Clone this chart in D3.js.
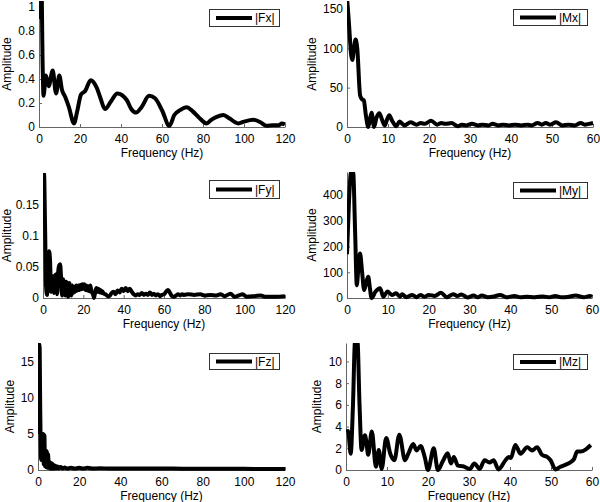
<!DOCTYPE html>
<html>
<head>
<meta charset="utf-8">
<script src="https://cdn.jsdelivr.net/npm/d3@7/dist/d3.min.js"></script>
<style>
  html, body { margin: 0; padding: 0; background: #fff; }
  svg { display: block; font-family: "Liberation Sans", Arial, sans-serif; }
</style>
</head>
<body>
<svg id="chart" width="600" height="502"></svg>
<script>
// ---- Data (frequency Hz, amplitude) ----
const fxData = [[0,0.9],[0.6,1.3],[1.2,1.2],[1.8,0.5],[2.2,0.26],[3.4,0.43],[4.7,0.34],[6.7,0.47],[8.3,0.28],[9.9,0.43],[11.2,0.31],[12.8,0.25],[14.5,0.17],[17.1,0.03],[18.5,0.12],[20.5,0.27],[22.5,0.3],[25.2,0.39],[28.1,0.33],[30,0.24],[32.2,0.15],[35,0.21],[38.2,0.28],[42.8,0.225],[45,0.15],[47.3,0.12],[50,0.165],[53.7,0.26],[56.6,0.24],[60,0.14],[63.6,0.01],[66,0.1],[68.8,0.14],[72,0.165],[75,0.13],[78,0.08],[81.8,0.03],[84,0.06],[86.7,0.085],[90,0.1],[93,0.07],[97.2,0.03],[100,0.045],[104.6,0.06],[108,0.04],[111,0.01],[114,0.015],[117,0.015],[118.5,0.03],[120,0.02]];

const mxData = [[0,165],[0.5,130],[1,92],[1.3,85],[1.7,100],[2.1,111],[2.5,100],[3.2,40],[3.7,35],[4.1,34],[4.6,15],[5.2,0],[5.6,10],[6,18],[6.6,0],[7.2,12],[7.9,17.5],[8.5,10],[9.2,2],[9.8,10],[10.3,15],[11,8],[12,1],[12.8,7],[13.5,4],[14,2],[15.5,6],[17,3],[18,5],[19,4],[20.5,8],[22,3],[23,5],[24,4],[25.5,5],[27,1],[28,3],[29,2],[30.5,4],[32,2],[33,3],[34.5,2],[35.5,4],[37,2],[38,3],[39.5,2],[41,3],[42.5,2],[44,3],[45,2],[46.5,5],[47.5,3],[48.5,5],[49.5,3],[51,6],[52.5,2],[54,3],[55.5,2],[57,5],[58,3],[59,4],[60,5]];

const fyData = [[0,0.19],[0.5,0.2],[1,0.12],[1.5,0.02],[2,0.005],[2.5,0.05],[3,0.075],[3.5,0.06],[4,0.01],[4.5,0.03],[5,0.035],[5.5,0.008],[6,0.036],[6.5,0.038],[7,0.006],[7.5,0.04],[8,0.052],[8.5,0.054],[9,0.03],[9.5,0.004],[10,0.03],[10.5,0.012],[11,0.004],[11.5,0.026],[12,0.008],[12.5,0.002],[13,0.024],[13.5,0.01],[14,0.004],[14.5,0.02],[15,0.008],[15.5,0.018],[16,0.01],[16.5,0.02],[17,0.012],[17.5,0.02],[18,0.013],[18.5,0.021],[19,0.014],[19.5,0.022],[20,0.015],[20.5,0.022],[21,0.013],[21.5,0.02],[22,0.012],[22.5,0.019],[23,0.011],[23.5,0.02],[24,0.01],[24.8,0.006],[25.3,0],[26,0.012],[26.5,0.016],[27,0.01],[27.5,0.015],[28,0.009],[28.5,0.013],[29,0.008],[29.5,0.011],[30,0.007],[31,0.006],[32,0.003],[33,0.003],[34,0.008],[35,0.01],[36,0.006],[37,0.012],[38,0.009],[39,0.015],[40,0.011],[41,0.016],[42,0.011],[43,0.015],[44,0.01],[45,0.006],[46,0.004],[47,0.006],[48,0.005],[49,0.008],[50,0.005],[51,0.007],[52,0.005],[53,0.009],[54,0.005],[55,0.007],[56,0.004],[57,0.006],[58,0.003],[59,0.005],[60,0.006],[61,0.01],[62,0.013],[63,0.008],[64,0.003],[65,0.002],[66,0.004],[67,0.006],[68,0.004],[69,0.006],[70,0.005],[72,0.006],[75,0.005],[78,0.006],[80,0.004],[83,0.005],[86,0.004],[88,0.006],[90,0.003],[93,0.007],[95,0.002],[97,0.004],[99,0.006],[101,0.002],[105,0.003],[108,0.004],[110,0.002],[115,0.002],[120,0.003]];

const myData = [[0,170],[0.5,380],[1,490],[1.5,490],[2,250],[2.4,50],[2.8,120],[3.2,173],[3.7,100],[4.2,31],[4.7,60],[5.2,83],[5.6,40],[6,0],[7,25],[8.1,38],[8.9,5],[9.9,25],[11,12],[12,18],[13,5],[13.5,15],[14.5,3],[16,12],[17,3],[18,12],[19,5],[20,12],[21.5,8],[23,20],[24.5,3],[26,15],[27,8],[28,14],[29.5,2],[31,10],[32,3],[33,10],[34.5,3],[36,6],[37.5,12],[39,3],[41,8],[42.5,3],[44,5],[46,3],[48,6],[49.5,3],[51,8],[52.5,3],[54,4],[56,10],[58,3],[59.5,8],[60,5]];

const fzData = [[0,5],[0.25,17.4],[0.75,17.4],[1.1,8],[1.5,1.4],[1.9,5],[2.2,1.5],[2.5,5],[2.8,0.8],[3.1,4.8],[3.4,0.5],[3.7,2.6],[4.0,0.4],[4.3,2.6],[4.6,0.3],[4.9,2.2],[5.2,0.3],[5.5,1.2],[5.8,0.2],[6.1,1.0],[6.5,0.2],[6.9,0.9],[7.3,0.2],[7.7,0.7],[8.1,0.2],[8.5,0.6],[9,0.2],[9.5,0.5],[10,0.2],[11,0.4],[12,0.2],[13,0.35],[14,0.2],[16,0.3],[18,0.2],[20,0.3],[22,0.2],[24,0.3],[27,0.2],[30,0.25],[35,0.2],[40,0.2],[50,0.2],[60,0.22],[70,0.18],[80,0.17],[90,0.17],[100,0.16],[110,0.15],[120,0.15]];

const mzData = [[0,3.5],[0.5,3.6],[1.15,1.5],[1.7,6],[2.2,11.8],[2.8,11.8],[3.3,6],[3.8,1.85],[4.6,3.2],[5,2.5],[5.4,1.4],[6.3,3.55],[7.3,0.3],[8,1.85],[8.7,0.1],[9.8,2.95],[10.8,1.5],[11.8,0.9],[13,3.25],[14.4,0.9],[15.2,1.5],[16.4,2.4],[17.2,1.8],[18.2,2.2],[19.2,1.2],[20,0],[21.4,2.0],[22.4,0],[23.6,0.8],[24.8,1.55],[25.6,0.6],[26.3,1.2],[27.3,0.4],[28.5,0.35],[30.2,0.1],[31.3,0.6],[32.6,0.1],[33.8,0.9],[35,0.7],[36,0.9],[37.2,0.05],[38.9,0.9],[39.7,1.2],[40.2,1.1],[41.3,2.3],[42.6,1.5],[44.2,2.1],[45.4,1.8],[46.6,2.1],[47.8,1.4],[49.1,1.2],[49.9,0.9],[51.1,0.05],[52.3,0.3],[53.6,0.5],[54.7,0.7],[55.6,1.0],[56.4,1.7],[57.2,1.7],[58.5,1.9],[59.7,2.3]];

// ---- Tick values ----
const xTicks120 = [0,20,40,60,80,100,120];
const xTicks60 = [0,10,20,30,40,50,60];
const fxYTicks = [0,0.2,0.4,0.6,0.8,1];
const mxYTicks = [0,50,100,150];
const fyYTicks = [0,0.05,0.1,0.15];
const myYTicks = [0,100,200,300,400];
const fzYTicks = [0,5,10,15];
const mzYTicks = [0,2,4,6,8,10];

const panels = [
  {name:"|Fx|", data:fxData, xMax:120, xTicks:xTicks120, yMax:1.05, yTicks:fxYTicks, left:39, right:285, top:1, bottom:127, legend:[209,9,70,17], ylx:7},
  {name:"|Mx|", data:mxData, xMax:60, xTicks:xTicks60, yMax:160, yTicks:mxYTicks, left:347, right:593, top:1, bottom:127, legend:[513,9,74,16], ylx:312},
  {name:"|Fy|", data:fyData, xMax:120, xTicks:xTicks120, yMax:0.2, yTicks:fyYTicks, left:43, right:285, top:173, bottom:298, legend:[209,180,70,18], ylx:7},
  {name:"|My|", data:myData, xMax:60, xTicks:xTicks60, yMax:490, yTicks:myYTicks, left:347, right:592, top:172, bottom:298, legend:[513,182,74,16], ylx:312},
  {name:"|Fz|", data:fzData, xMax:120, xTicks:xTicks120, yMax:17.6, yTicks:fzYTicks, left:38, right:285, top:343, bottom:470, legend:[209,353,70,16], ylx:10},
  {name:"|Mz|", data:mzData, xMax:60, xTicks:xTicks60, yMax:11.7, yTicks:mzYTicks, left:346, right:592, top:343, bottom:470, legend:[513,354,74,15], ylx:317}
];

const svg = d3.select("#chart");
const fmt = d3.format("~g");

panels.forEach((p, i) => {
  const x = d3.scaleLinear().domain([0, p.xMax]).range([p.left, p.right]);
  const y = d3.scaleLinear().domain([0, p.yMax]).range([p.bottom, p.top]);
  const g = svg.append("g");

  const clipId = "clip" + i;
  svg.append("clipPath").attr("id", clipId)
    .append("rect").attr("x", p.left).attr("y", p.top)
    .attr("width", p.right - p.left + 3).attr("height", p.bottom - p.top + 2);

  // axes
  const xa = g.append("g").attr("transform", `translate(0,${p.bottom})`)
    .call(d3.axisBottom(x).tickValues(p.xTicks).tickFormat(fmt).tickSizeInner(-3).tickSizeOuter(0).tickPadding(7));
  const ya = g.append("g").attr("transform", `translate(${p.left},0)`)
    .call(d3.axisLeft(y).tickValues(p.yTicks).tickFormat(fmt).tickSizeInner(-3).tickSizeOuter(0).tickPadding(4));
  [xa, ya].forEach(a => {
    a.select(".domain").attr("stroke", "#666");
    a.selectAll(".tick line").attr("stroke", "#666");
    a.selectAll("text").attr("fill", "#000").style("font-size", "12px");
  });

  // line
  const line = d3.line().x(d => x(d[0])).y(d => y(d[1])).curve(d3.curveMonotoneX);
  g.append("path").datum(p.data)
    .attr("clip-path", `url(#${clipId})`)
    .attr("fill", "none").attr("stroke", "#000").attr("stroke-width", 4)
    .attr("stroke-linejoin", "round").attr("stroke-linecap", "butt")
    .attr("d", line);

  // labels
  g.append("text").attr("x", (p.left + p.right) / 2).attr("y", p.bottom + 30)
    .attr("text-anchor", "middle").style("font-size", "12px").text("Frequency (Hz)");
  g.append("text")
    .attr("transform", `translate(${p.ylx},${(p.top + p.bottom) / 2}) rotate(-90)`)
    .attr("text-anchor", "middle").attr("dominant-baseline", "central")
    .style("font-size", "12px").text("Amplitude");

  // legend
  const [lx, ly, lw, lh] = p.legend;
  g.append("rect").attr("x", lx + 0.5).attr("y", ly + 0.5).attr("width", lw).attr("height", lh)
    .attr("fill", "#fff").attr("stroke", "#333").attr("stroke-width", 1);
  g.append("line").attr("x1", lx + 7).attr("x2", lx + 43)
    .attr("y1", ly + lh / 2 + 0.5).attr("y2", ly + lh / 2 + 0.5)
    .attr("stroke", "#000").attr("stroke-width", 4);
  g.append("text").attr("x", lx + 46).attr("y", ly + lh / 2 + 0.5)
    .attr("dominant-baseline", "central").style("font-size", "12px").text(p.name);
});
</script>
</body>
</html>
